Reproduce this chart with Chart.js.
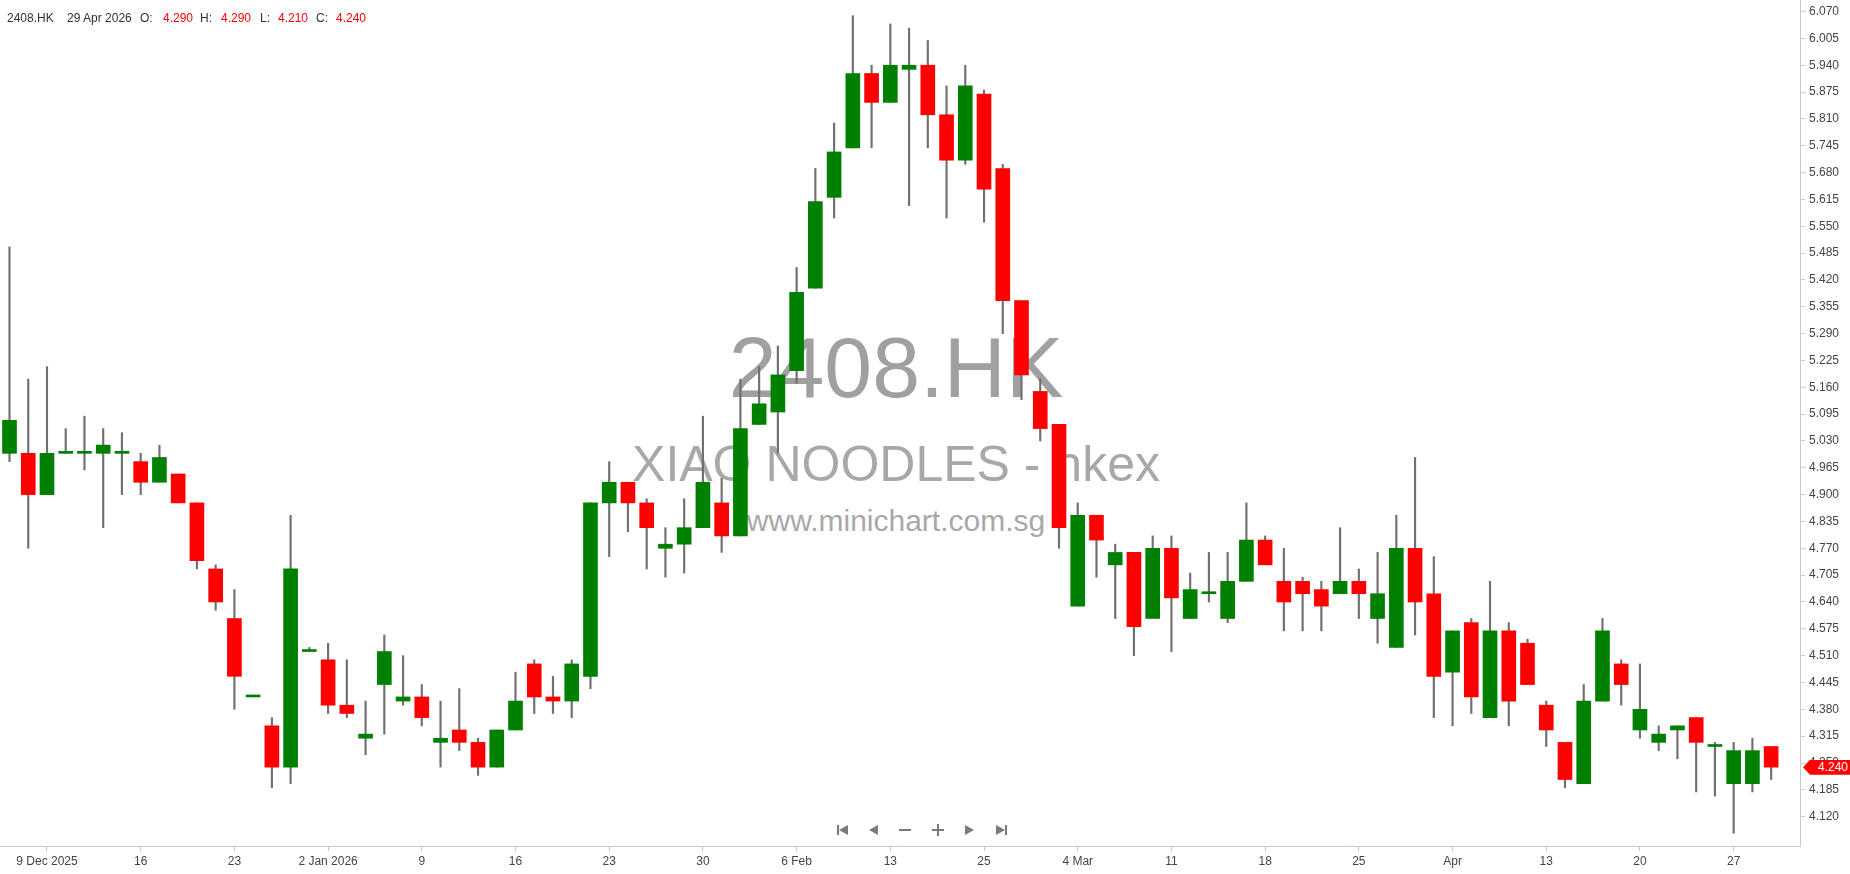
<!DOCTYPE html>
<html>
<head>
<meta charset="utf-8">
<script src="https://cdn.jsdelivr.net/npm/chart.js@4.4.1/dist/chart.umd.min.js"></script>
<style>
  html, body { margin: 0; padding: 0; background: #fff; overflow: hidden; }
  #wrap { position: relative; width: 1850px; height: 874px; }
  #chart { position: absolute; left: 0; top: 0; z-index: 2; }
  .wm { position: absolute; left: 0; width: 1792px; text-align: center; white-space: nowrap;
        font-family: "Liberation Sans", Arial, sans-serif; line-height: 1; z-index: 1; }
  .hd { position: absolute; top: 12px; font: 12px/1 "Liberation Sans", Arial, sans-serif; color: #333; z-index: 3; white-space: nowrap; }
  .hd.v { color: #ff0000; }
  #tag { position: absolute; left: 1803px; width: 47px; height: 15px; background: #ff0000; color: #fff;
         font: 12px/15px "Liberation Sans", Arial, sans-serif; text-align: right; padding-right: 2px; box-sizing: border-box;
         clip-path: polygon(0 50%, 7px 0, 100% 0, 100% 100%, 7px 100%); z-index: 3; }
  .ic { position: absolute; z-index: 3; }
  .tl { width: 0; height: 0; border-top: 5px solid transparent; border-bottom: 5px solid transparent; border-right: 9px solid #7a7a7a; }
  .tr { width: 0; height: 0; border-top: 5px solid transparent; border-bottom: 5px solid transparent; border-left: 9px solid #7a7a7a; }
  .bar { background: #7a7a7a; }
</style>
</head>
<body>
<div id="wrap">
  <div class="wm" style="top:324px;font-size:86px;color:#a0a0a0;">2408.HK</div>
  <div class="wm" style="top:439px;font-size:50px;color:#a8a8a8;">XIAO NOODLES - hkex</div>
  <div class="wm" style="top:506px;font-size:30px;color:#a8a8a8;">www.minichart.com.sg</div>
  <canvas id="chart" width="1850" height="874"></canvas>
  <div id="tag"></div>

  <!-- navigation buttons -->
  <div class="ic bar" style="left:837px;top:825px;width:2px;height:10px;"></div>
  <div class="ic tl"  style="left:839px;top:825px;"></div>
  <div class="ic tl"  style="left:869px;top:825px;"></div>
  <div class="ic bar" style="left:899px;top:829px;width:12px;height:2px;"></div>
  <div class="ic bar" style="left:932px;top:829px;width:12px;height:2px;"></div>
  <div class="ic bar" style="left:937px;top:824px;width:2px;height:12px;"></div>
  <div class="ic tr"  style="left:965px;top:825px;"></div>
  <div class="ic tr"  style="left:996px;top:825px;"></div>
  <div class="ic bar" style="left:1005px;top:825px;width:2px;height:10px;"></div>
</div>

<script>
// trading days shown
const dates = [
  '2025-12-05','2025-12-08','2025-12-09','2025-12-10','2025-12-11','2025-12-12','2025-12-15','2025-12-16',
  '2025-12-17','2025-12-18','2025-12-19','2025-12-22','2025-12-23','2025-12-24','2025-12-29','2025-12-30',
  '2025-12-31','2026-01-02','2026-01-05','2026-01-06','2026-01-07','2026-01-08','2026-01-09','2026-01-12',
  '2026-01-13','2026-01-14','2026-01-15','2026-01-16','2026-01-19','2026-01-20','2026-01-21','2026-01-22',
  '2026-01-23','2026-01-26','2026-01-27','2026-01-28','2026-01-29','2026-01-30','2026-02-02','2026-02-03',
  '2026-02-04','2026-02-05','2026-02-06','2026-02-09','2026-02-10','2026-02-11','2026-02-12','2026-02-13',
  '2026-02-16','2026-02-20','2026-02-23','2026-02-24','2026-02-25','2026-02-26','2026-02-27','2026-03-02',
  '2026-03-03','2026-03-04','2026-03-05','2026-03-06','2026-03-09','2026-03-10','2026-03-11','2026-03-12',
  '2026-03-13','2026-03-16','2026-03-17','2026-03-18','2026-03-19','2026-03-20','2026-03-23','2026-03-24',
  '2026-03-25','2026-03-26','2026-03-27','2026-03-30','2026-03-31','2026-04-01','2026-04-02','2026-04-08',
  '2026-04-09','2026-04-10','2026-04-13','2026-04-14','2026-04-15','2026-04-16','2026-04-17','2026-04-20',
  '2026-04-21','2026-04-22','2026-04-23','2026-04-24','2026-04-27','2026-04-28','2026-04-29'
];

const open = [
  5.00,5.00,4.90,5.00,5.00,5.00,5.00,4.98,4.93,4.95,4.88,4.72,4.60,4.41,4.34,4.24,
  4.52,4.50,4.39,4.31,4.44,4.40,4.41,4.30,4.33,4.30,4.24,4.33,4.49,4.41,4.40,4.46,
  4.88,4.93,4.88,4.77,4.78,4.82,4.88,4.80,5.07,5.10,5.20,5.40,5.62,5.74,5.92,5.85,
  5.93,5.94,5.82,5.71,5.87,5.69,5.37,5.15,5.07,4.63,4.85,4.73,4.76,4.60,4.77,4.60,
  4.66,4.60,4.69,4.79,4.69,4.69,4.67,4.66,4.69,4.60,4.53,4.77,4.66,4.47,4.59,4.36,
  4.57,4.54,4.39,4.30,4.20,4.40,4.49,4.33,4.30,4.33,4.36,4.29,4.20,4.20,4.29
];
const high = [
  5.50,5.18,5.21,5.06,5.09,5.06,5.05,5.00,5.02,4.95,4.88,4.73,4.67,4.41,4.36,4.85,
  4.53,4.54,4.50,4.40,4.56,4.51,4.44,4.40,4.43,4.31,4.33,4.47,4.50,4.46,4.50,4.88,
  4.98,4.93,4.89,4.82,4.89,5.09,4.94,5.18,5.21,5.26,5.45,5.69,5.80,6.06,5.94,6.04,
  6.03,6.00,5.89,5.94,5.88,5.70,5.37,5.18,5.07,4.88,4.85,4.78,4.76,4.80,4.80,4.71,
  4.76,4.76,4.88,4.80,4.77,4.70,4.69,4.82,4.72,4.76,4.85,4.99,4.75,4.57,4.60,4.69,
  4.59,4.55,4.40,4.30,4.44,4.60,4.50,4.49,4.34,4.34,4.36,4.30,4.30,4.31,4.29
];
const low = [
  4.98,4.77,4.90,5.00,4.96,4.82,4.90,4.90,4.93,4.88,4.72,4.62,4.38,4.41,4.19,4.20,
  4.52,4.37,4.36,4.27,4.32,4.39,4.34,4.24,4.28,4.22,4.24,4.33,4.37,4.37,4.36,4.43,
  4.75,4.81,4.72,4.70,4.71,4.82,4.76,4.80,5.07,5.00,5.17,5.40,5.57,5.74,5.74,5.85,
  5.60,5.74,5.57,5.70,5.56,5.29,5.13,5.03,4.77,4.63,4.70,4.60,4.51,4.60,4.52,4.60,
  4.64,4.59,4.69,4.73,4.57,4.57,4.57,4.66,4.60,4.54,4.53,4.56,4.36,4.34,4.37,4.36,
  4.34,4.44,4.29,4.19,4.20,4.40,4.39,4.31,4.28,4.26,4.18,4.17,4.08,4.18,4.21
];
const close = [
  5.08,4.90,5.00,5.00,5.00,5.02,5.00,4.93,4.99,4.88,4.74,4.64,4.46,4.41,4.24,4.72,
  4.52,4.39,4.37,4.32,4.52,4.41,4.36,4.31,4.30,4.24,4.33,4.40,4.41,4.40,4.49,4.88,
  4.93,4.88,4.82,4.78,4.82,4.93,4.80,5.06,5.12,5.19,5.39,5.61,5.73,5.92,5.85,5.94,
  5.94,5.82,5.71,5.89,5.64,5.37,5.19,5.06,4.82,4.85,4.79,4.76,4.58,4.77,4.65,4.67,
  4.66,4.69,4.79,4.73,4.64,4.66,4.63,4.69,4.66,4.66,4.77,4.64,4.46,4.57,4.41,4.57,
  4.40,4.44,4.33,4.21,4.40,4.57,4.44,4.38,4.32,4.34,4.30,4.29,4.28,4.28,4.24
];

// x axis labels
const tickDates = ['2025-12-09','2025-12-16','2025-12-23','2026-01-02','2026-01-09','2026-01-16','2026-01-23',
  '2026-01-30','2026-02-06','2026-02-13','2026-02-25','2026-03-04','2026-03-11','2026-03-18','2026-03-25',
  '2026-04-01','2026-04-13','2026-04-20','2026-04-27'];
const tickLabels = ['9 Dec 2025','16','23','2 Jan 2026','9','16','23','30','6 Feb','13','25','4 Mar','11','18','25',
  'Apr','13','20','27'];

// y axis labels
const yTicks = [4.120,4.185,4.250,4.315,4.380,4.445,4.510,4.575,4.640,4.705,4.770,4.835,4.900,4.965,5.030,
  5.095,5.160,5.225,5.290,5.355,5.420,5.485,5.550,5.615,5.680,5.745,5.810,5.875,5.940,6.005,6.070];

const UP = '#008000', DOWN = '#ff0000';
const FONT = '"Liberation Sans", Arial, sans-serif';
const tickIdx = tickDates.map(d => dates.indexOf(d));
const last = dates.length - 1;

// header
const months = ['Jan','Feb','Mar','Apr','May','Jun','Jul','Aug','Sep','Oct','Nov','Dec'];
const dp = dates[last].split('-');
const hdr = [
  ['2408.HK', 7, false],
  [(+dp[2]) + ' ' + months[+dp[1] - 1] + ' ' + dp[0], 67, false],
  ['O:', 140, false], [open[last].toFixed(3), 163, true],
  ['H:', 200, false], [high[last].toFixed(3), 221, true],
  ['L:', 260, false], [low[last].toFixed(3), 278, true],
  ['C:', 316, false], [close[last].toFixed(3), 336, true]
];
hdr.forEach(([t, x, v]) => {
  const el = document.createElement('div');
  el.className = 'hd' + (v ? ' v' : '');
  el.style.left = x + 'px';
  el.textContent = t;
  document.getElementById('wrap').appendChild(el);
});

const bodies = dates.map((d, i) => ({ x: i, y: [open[i], close[i]] }));
const wicks = dates.map((d, i) => ({ x: i, y: [low[i], high[i]] }));
const colors = dates.map((d, i) => close[i] >= open[i] ? UP : DOWN);

const tagPlugin = {
  id: 'lastTag',
  afterDraw(chart) {
    const y = chart.scales.y.getPixelForValue(close[last]);
    const tag = document.getElementById('tag');
    tag.style.top = (y - 7.5) + 'px';
    tag.textContent = close[last].toFixed(3);
  }
};

new Chart(document.getElementById('chart'), {
  type: 'bar',
  data: {
    datasets: [
      { data: bodies, backgroundColor: colors, barThickness: 14, minBarLength: 2, grouped: false, order: 0 },
      { data: wicks, backgroundColor: '#707070', barThickness: 1.5, grouped: false, order: 1 }
    ]
  },
  options: {
    responsive: false,
    animation: false,
    layout: { padding: 0 },
    plugins: { legend: { display: false }, tooltip: { enabled: false } },
    scales: {
      x: {
        type: 'linear',
        offset: false,
        min: -0.507,
        max: 95.54,
        afterBuildTicks: s => { s.ticks = tickIdx.map(v => ({ value: v })); },
        afterFit: s => { s.height = 28; s.paddingLeft = 0; s.paddingRight = 0; },
        grid: { offset: false, drawOnChartArea: false, tickLength: 5, color: '#c8c8c8' },
        border: { color: '#c8c8c8' },
        ticks: {
          autoSkip: false, maxRotation: 0, padding: 3, color: '#444',
          font: { family: FONT, size: 12 },
          callback: (v, i) => tickLabels[i]
        }
      },
      y: {
        position: 'right',
        min: 4.049,
        max: 6.098,
        afterBuildTicks: s => { s.ticks = yTicks.map(v => ({ value: v })); },
        afterFit: s => { s.width = 50; s.paddingTop = 0; s.paddingBottom = 0; },
        grid: { drawOnChartArea: false, tickLength: 5, color: '#c8c8c8' },
        border: { color: '#c8c8c8' },
        ticks: {
          autoSkip: false, padding: 4, color: '#444',
          font: { family: FONT, size: 12 },
          callback: v => v.toFixed(3)
        }
      }
    }
  },
  plugins: [tagPlugin]
});
</script>
</body>
</html>
